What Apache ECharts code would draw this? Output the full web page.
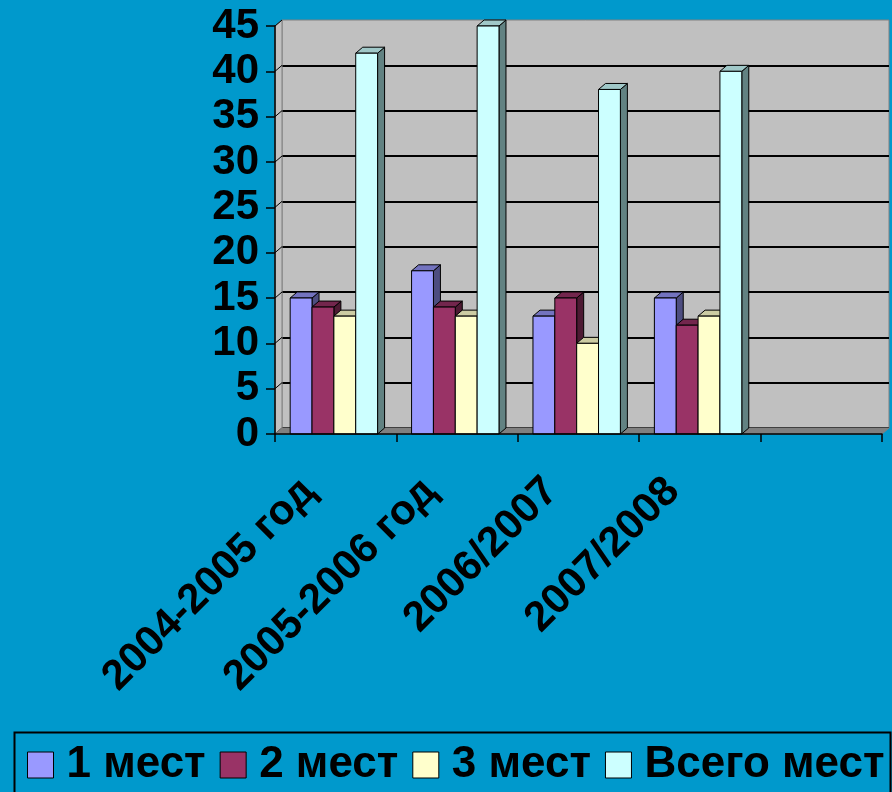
<!DOCTYPE html>
<html>
<head>
<meta charset="utf-8">
<script src="https://cdn.jsdelivr.net/npm/echarts/dist/echarts.min.js"></script>
<style>
  html, body { margin: 0; padding: 0; background: #0099cc; }
  #chart { width: 892px; height: 792px; }
</style>
</head>
<body>
<div id="chart"></div>
<script>
// data
const categories = ["2004-2005 год", "2005-2006 год", "2006/2007", "2007/2008", ""];
const seriesNames = ["1 мест", "2 мест", "3 мест", "Всего мест"];
const place1 = [15, 18, 13, 15];
const place2 = [14, 14, 15, 12];
const place3 = [13, 13, 10, 13];
const totalPlaces = [42, 45, 38, 40];
const yTicks = [0, 5, 10, 15, 20, 25, 30, 35, 40, 45];

const FONT = "'Liberation Sans', Arial, sans-serif";
// depth of the fake 3d
const DX = 7;
const DY = 6;

const faceColors = ["#9999ff", "#993366", "#ffffcc", "#ccffff"];
const topColors = ["#7373bf", "#73264d", "#cccca3", "#a0c8c8"];
const sideColors = ["#4d4d80", "#4d1a33", "#808066", "#628282"];

function barSeries(name, values, s) {
  return {
    name: name,
    type: "custom",
    xAxisIndex: 1,
    yAxisIndex: 1,
    z: 2,
    silent: true,
    itemStyle: { color: faceColors[s] },
    data: values.map((v, i) => [i, v]),
    renderItem: function (params, api) {
      const i = api.value(0);
      const v = api.value(1);
      const base = api.coord([i, 0]);
      const top = api.coord([i, v]);
      const band = api.size([1, 0])[0];
      const bw = band * 0.18;
      const x0 = base[0] - band / 2 + band * 0.125 + s * bw;
      const x1 = x0 + bw;
      const yT = top[1];
      const yB = base[1];
      const line = { stroke: "#000", lineWidth: 1 };
      return {
        type: "group",
        children: [
          {
            type: "polygon",
            shape: { points: [[x1, yT], [x1 + DX, yT - DY], [x1 + DX, yB - DY], [x1, yB]] },
            style: Object.assign({ fill: sideColors[s] }, line),
          },
          {
            type: "polygon",
            shape: { points: [[x0, yT], [x0 + DX, yT - DY], [x1 + DX, yT - DY], [x1, yT]] },
            style: Object.assign({ fill: topColors[s] }, line),
          },
          {
            type: "rect",
            shape: { x: x0, y: yT, width: bw, height: yB - yT },
            style: Object.assign({ fill: faceColors[s] }, line),
          },
        ],
      };
    },
  };
}

// left wall, floor and the slanted tick lines
const wallSeries = {
  type: "custom",
  xAxisIndex: 1,
  yAxisIndex: 1,
  z: 1,
  silent: true,
  data: [[0, 0]],
  renderItem: function (params, api) {
    const cs = params.coordSys;
    const L = cs.x, T = cs.y, R = cs.x + cs.width, B = cs.y + cs.height;
    const children = [
      {
        type: "polygon",
        shape: { points: [[L, B], [L, T], [L + DX, T - DY], [L + DX, B - DY]] },
        style: { fill: "#c0c0c0", stroke: "#808080", lineWidth: 1 },
      },
    ];
    yTicks.forEach((t) => {
      const y = api.coord([0, t])[1];
      children.push({
        type: "line",
        shape: { x1: L, y1: y, x2: L + DX, y2: y - DY },
        style: { stroke: "#000", lineWidth: 1 },
      });
    });
    children.push({
      type: "polygon",
      shape: { points: [[L, B], [L + DX, B - DY], [R + DX, B - DY], [R, B]] },
      style: { fill: "#808080", stroke: "#808080", lineWidth: 1 },
    });
    return { type: "group", children: children };
  },
};

const chart = echarts.init(document.getElementById("chart"));
chart.setOption({
  backgroundColor: "#0099cc",
  animation: false,
  textStyle: { fontFamily: FONT },
  grid: [
    // back wall
    { left: 282, right: 3, top: 20, bottom: 364, show: true, backgroundColor: "#c0c0c0", borderColor: "#808080", borderWidth: 1 },
    // front plane
    { left: 275, right: 10, top: 26, bottom: 358 },
  ],
  xAxis: [
    { type: "category", gridIndex: 0, data: categories, show: false },
    {
      type: "category",
      gridIndex: 1,
      data: categories,
      z: 3,
      axisLine: { lineStyle: { color: "#000", width: 1.5 } },
      axisTick: { show: true, interval: 0, length: 8, lineStyle: { color: "#000", width: 1.5 } },
      axisLabel: {
        interval: 0,
        rotate: 45,
        margin: 24,
        padding: [0, 38, 0, 0],
        color: "#000",
        fontSize: 42,
        fontWeight: "bold",
        fontFamily: FONT,
      },
    },
  ],
  yAxis: [
    {
      type: "value",
      gridIndex: 0,
      min: yTicks[0],
      max: yTicks[yTicks.length - 1],
      interval: 5,
      axisLine: { show: false },
      axisTick: { show: false },
      axisLabel: { show: false },
      splitLine: { show: true, showMaxLine: false, lineStyle: { color: "#000", width: 2 } },
    },
    {
      type: "value",
      gridIndex: 1,
      min: yTicks[0],
      max: yTicks[yTicks.length - 1],
      interval: 5,
      z: 3,
      axisLine: { show: true, lineStyle: { color: "#000", width: 1.5 } },
      axisTick: { show: true, length: 9, lineStyle: { color: "#000", width: 1.5 } },
      axisLabel: { margin: 16, color: "#000", fontSize: 42, fontWeight: "bold", fontFamily: FONT },
      splitLine: { show: false },
    },
  ],
  legend: {
    left: 27,
    top: 743,
    width: 865,
    padding: 0,
    itemWidth: 26,
    itemHeight: 26,
    itemGap: 14,
    icon: "rect",
    selectedMode: false,
    textStyle: { color: "#000", fontSize: 44, fontWeight: "bold", fontFamily: FONT, padding: [0, 0, 0, 8] },
    data: seriesNames.map((n, k) => ({
      name: n,
      itemStyle: { color: faceColors[k], borderColor: "#000", borderWidth: 1 },
    })),
  },
  graphic: [
    {
      type: "rect",
      left: 12,
      top: 730,
      shape: { width: 876, height: 80 },
      style: { fill: "none", stroke: "#000", lineWidth: 2 },
      silent: true,
    },
  ],
  series: [
    wallSeries,
    barSeries(seriesNames[0], place1, 0),
    barSeries(seriesNames[1], place2, 1),
    barSeries(seriesNames[2], place3, 2),
    barSeries(seriesNames[3], totalPlaces, 3),
  ],
});
</script>
</body>
</html>
